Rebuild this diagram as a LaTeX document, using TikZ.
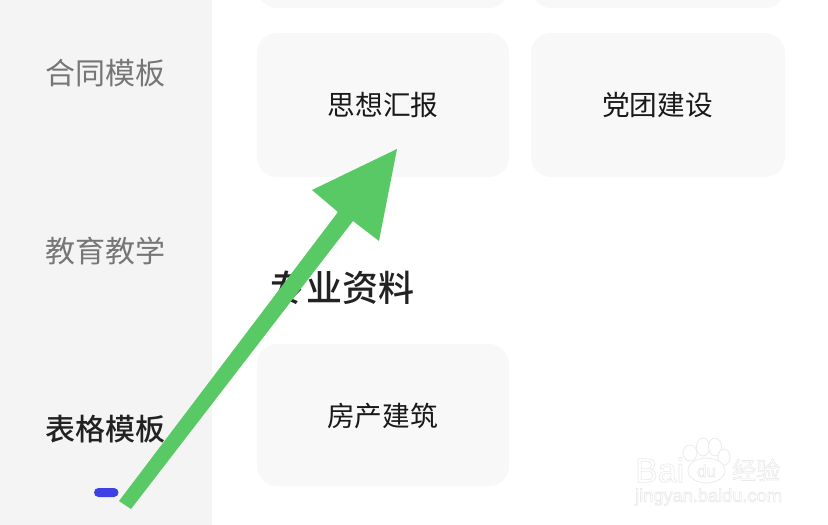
\documentclass[tikz,border=0pt]{standalone}
\usepackage{fontspec}
\setmainfont{Liberation Sans}
\newfontfamily\cjk{Noto Sans CJK SC}
\newfontfamily\cjkm{Noto Sans CJK SC Medium}
\definecolor{sidebg}{HTML}{F4F4F5}
\definecolor{cardbg}{HTML}{F8F8F9}
\definecolor{sidetxt}{HTML}{767676}
\definecolor{darktxt}{HTML}{222222}
\definecolor{pill}{HTML}{3F3FE6}
\definecolor{arrowgreen}{HTML}{58C964}
\definecolor{wm}{HTML}{EBEBEB}
\newcommand{\outlined}[1]{\special{pdf:code q 1 Tr 0.7 w}#1\special{pdf:code Q}}
\tikzset{
  x=1pt,y=-1pt,
  sidelabel/.style={text=sidetxt,inner sep=0pt,font=\fontsize{30}{30}\selectfont\cjk},
  sideactive/.style={text=darktxt,inner sep=0pt,font=\fontsize{30}{30}\selectfont\cjkm},
  cardlabel/.style={text=black!90,inner sep=0pt,font=\fontsize{27.7}{27.7}\selectfont\cjk},
  heading/.style={text=darktxt,inner sep=0pt,font=\fontsize{36}{36}\selectfont\cjkm},
  card/.style={fill=cardbg,rounded corners=20pt},
  wmtext/.style={text=wm,inner sep=0pt},
  paw/.style={draw=wm,line width=.8pt,fill=white},
}
\begin{document}
\begin{tikzpicture}
\useasboundingbox (0,0) rectangle (828,525);
\fill[white] (0,0) rectangle (828,525);
\fill[sidebg] (0,0) rectangle (212,525);
% cards
\begin{scope}
\clip (0,0) rectangle (828,525);
\fill[card] (257,-40) rectangle (509,8);
\fill[card] (531,-40) rectangle (785,8);
\end{scope}
\fill[card] (257,33) rectangle (509,177);
\fill[card] (531,33) rectangle (785,177);
\fill[card] (257,344) rectangle (509,486);
% labels
\node[sidelabel] (a) at (105.5,73) {合同模板};
\node[sidelabel] (b) at (105.5,251) {教育教学};
\node[sideactive] (c) at (105.5,429.5) {表格模板};
\node[cardlabel] (d) at (383,105) {思想汇报};
\node[cardlabel] (e) at (657.5,105) {党团建设};
\node[heading] (f) at (342,288) {专业资料};
\node[cardlabel] (g) at (382.5,416) {房产建筑};
% pill
\fill[pill,rounded corners=4.5pt] (94,488) rectangle (118.5,497);
% watermark
\node[wmtext,anchor=west,font=\fontsize{34}{34}\selectfont] (w1) at (635,470) {\outlined{Bai}};
\draw[paw] (690,453) ellipse (7 and 8);
\draw[paw] (703,447) ellipse (6.5 and 9);
\draw[paw] (715,447) ellipse (6.5 and 9);
\draw[paw] (724,457) ellipse (6 and 8);
\draw[paw] (706.5,470.5) ellipse (18.5 and 12.5);
\node[wmtext,font=\fontsize{17}{17}\selectfont] (w2) at (706.5,471) {\outlined{du}};
\node[wmtext,anchor=west,font=\fontsize{24}{24}\selectfont\cjk] (w3) at (732,470) {\outlined{经验}};
\node[wmtext,anchor=west,font=\fontsize{18.2}{18.2}\selectfont] (w4) at (635,497) {\outlined{jingyan.baidu.com}};
% arrow
\coordinate (tip) at (397,149);
\coordinate (hl) at (312,190);
\coordinate (nl) at (338,212);
\coordinate (tl) at (119,501);
\coordinate (tr) at (131,509);
\coordinate (nr) at (353,221);
\coordinate (hr) at (379,241);
\fill[arrowgreen] (tip) -- (hl) -- (nl) -- (tl) -- (tr) -- (nr) -- (hr) -- cycle;
\end{tikzpicture}
\end{document}
